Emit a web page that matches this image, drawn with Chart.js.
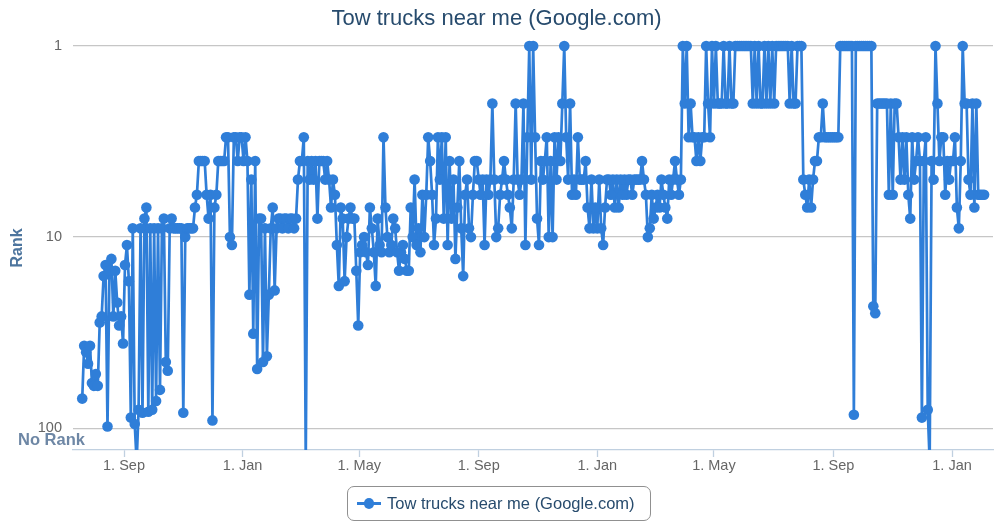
<!DOCTYPE html>
<html>
<head>
<meta charset="utf-8">
<title>Tow trucks near me (Google.com)</title>
<script src="https://cdn.jsdelivr.net/npm/chart.js@4.4.1/dist/chart.umd.min.js"></script>
<style>
  body { margin: 0; background: #fff; }
  #wrap { position: relative; width: 1004px; height: 522px; }
  #legend {
    position: absolute; left: 347px; top: 486px; width: 304px; height: 35px;
    box-sizing: border-box; border: 1px solid #909090; border-radius: 7px;
    display: flex; align-items: center;
    font: 16.5px "Liberation Sans", Arial, sans-serif; color: #274b6d;
  }
  #legend .sym { position: relative; width: 24px; height: 12px; margin-left: 9px; margin-right: 6px; }
  #legend .sym::before { content: ""; position: absolute; left: 0; right: 0; top: 4.7px; height: 2.7px; background: #2f7ed8; }
  #legend .sym::after { content: ""; position: absolute; left: 6.7px; top: 0.7px; width: 10.6px; height: 10.6px; border-radius: 50%; background: #2f7ed8; }
</style>
</head>
<body>
<div id="wrap">
  <canvas id="rank-chart" width="1004" height="522"></canvas>
  <div id="legend"><span class="sym"></span><span>Tow trucks near me (Google.com)</span></div>
</div>
<script>
const NR = 150; // "No Rank" days: below the axis, the line gets clipped at the bottom
const seriesName = "Tow trucks near me (Google.com)";
const firstDate = Date.UTC(2013, 6, 20);
const dayStep = 2; // one reading every 2 days

// rank readings, oldest first
const ranks2013 = [70, 37, 40, 46, 37, 58, 60, 52, 60, 28, 26, 16, 14, 98, 15, 13, 26, 15, 22, 29, 26, 36,
  14, 11, 17, 88, 9, 95, NR, 80, 9, 83, 8, 7, 82, 9, 80, 9, 72, 9, 63, 9, 8, 45, 50, 9, 8, 9, 9,
  9, 9, 9, 83, 10, 9, 9, 9, 9, 7, 6, 4, 4, 4, 4, 6, 8, 6, 91, 7, 6, 4, 4, 4, 4, 3, 3, 10, 11, 3, 3, 4, 3, 3];
const ranks2014 = [4, 3, 4, 20, 5, 32, 4, 49, 8, 8,
  45, 9, 42, 20, 9, 7, 19, 9, 8, 8, 9, 8, 8, 9, 8, 8, 9, 8, 5, 4, 4, 3, NR, 4, 5, 4, 5, 4, 8, 4,
  4, 4, 5, 4, 5, 7, 5, 6, 11, 18, 7, 8, 17, 10, 8, 7, 8,
  8, 15, 29, 12, 11, 10, 12, 14, 7, 9, 12, 18, 8, 11, 12, 3, 7, 10, 12, 11, 8, 9, 12, 15, 12,
  11, 13, 15, 15, 7, 10, 5, 11, 9, 12, 6, 10, 6, 3, 4, 6, 11, 8, 3, 5, 3, 8,
  3, 11, 4, 8, 5, 13, 7, 4, 9, 16, 6, 5, 9, 10, 6, 4, 4, 5, 6, 5, 11, 5, 6, 5, 2, 5, 10, 9, 6, 5,
  4, 5, 6, 7, 9, 5, 2, 5, 6, 5, 2, 11, 3, 1, 5,
  1, 3, 8, 11, 4, 5, 4, 3, 10, 4, 10, 3, 5, 3, 4, 2, 1, 3, 5, 2, 6, 5, 6, 3, 5, 5, 5, 4, 7, 9, 5, 9, 7];
const ranks2015 = [9, 5, 9, 11, 7, 5, 5, 6, 5, 7, 5, 7, 5, 6,
  5, 6, 5, 5, 6, 5, 5, 5, 5, 4, 5, 6, 10, 9, 6, 8, 7, 6, 7, 5, 6, 7, 8, 5, 6, 5, 4, 5, 6, 5,
  1, 2, 1, 3, 2, 3, 3, 4, 3, 4, 3, 3, 1,
  2, 3, 1, 2, 1, 2, 2, 2, 1, 2, 2, 1, 2, 2, 1, 1, 1, 1, 1, 1, 1, 1, 1, 2, 1, 2, 1, 2, 2, 1,
  2, 1, 2, 1, 2, 1, 1, 1, 1, 1, 1, 1, 2, 1, 2, 2, 1, 1, 1,
  5, 6, 7, 5, 7, 5, 4, 4, 3, 3, 2, 3, 3, 3, 3, 3, 3, 3, 3, 1, 1, 1, 1, 1, 1, 1, 85, 1, 1, 1,
  1, 1, 1, 1, 1, 1, 23, 25, 2, 2, 2, 2, 2, 2, 6, 2, 6,
  2, 2, 3, 5, 3, 5, 3, 6, 8, 3, 5, 4, 3, 4, 88, 4, 3, 80, NR, 4, 5, 1, 2, 4, 3, 3, 6, 4, 5, 4];
const ranks2016 = [4, 3, 7, 9, 4, 1, 2, 2, 5, 6, 2, 7, 2, 6, 6, 6, 6];

const tickDates = [Date.UTC(2013, 8, 1), Date.UTC(2014, 0, 1), Date.UTC(2014, 4, 1), Date.UTC(2014, 8, 1),
  Date.UTC(2015, 0, 1), Date.UTC(2015, 4, 1), Date.UTC(2015, 8, 1), Date.UTC(2016, 0, 1)];
const tickLabels = ["1. Sep", "1. Jan", "1. May", "1. Sep", "1. Jan", "1. May", "1. Sep", "1. Jan"];
const rankTicks = [1, 10, 100];

const DAY = 86400000;
const ranks = ranks2013.concat(ranks2014, ranks2015, ranks2016);
const points = ranks.map((r, i) => ({ x: firstDate + i * dayStep * DAY, y: r }));

const fontFamily = '"Liberation Sans", Arial, Helvetica, sans-serif';
Chart.defaults.font.family = fontFamily;

// "No Rank" label sits under the 100 line, partly over the plot
const noRankLabel = {
  id: "noRankLabel",
  afterDraw(chart) {
    const ctx = chart.ctx;
    const y = chart.scales.y.getPixelForValue(115);
    ctx.save();
    ctx.font = "bold 16.5px " + fontFamily;
    ctx.fillStyle = "#6e87a5";
    ctx.textAlign = "left";
    ctx.textBaseline = "middle";
    ctx.fillText("No Rank", 18, y + 1);
    ctx.restore();
  }
};

const ctx = document.getElementById("rank-chart");
const rankChart = new Chart(ctx, {
  type: "line",
  data: {
    datasets: [{
      label: seriesName,
      data: points,
      borderColor: "#2f7ed8",
      backgroundColor: "#2f7ed8",
      borderWidth: 2.7,
      borderJoinStyle: "round",
      borderCapStyle: "round",
      pointRadius: 5.3,
      pointBorderWidth: 0,
      pointBackgroundColor: "#2f7ed8",
      tension: 0,
      clip: { left: 8, top: 8, right: 8, bottom: 0 }
    }]
  },
  options: {
    responsive: false,
    animation: false,
    events: [],
    layout: { padding: { left: 0, right: 11, top: 0, bottom: 42 } },
    plugins: {
      legend: { display: false },
      tooltip: { enabled: false },
      title: {
        display: true,
        text: seriesName,
        color: "#274b6d",
        font: { size: 22, weight: "normal" },
        padding: { top: 6, bottom: 13.6 }
      }
    },
    scales: {
      x: {
        type: "linear",
        min: Date.UTC(2013, 6, 10, 12),
        max: Date.UTC(2016, 1, 12, 4),
        afterBuildTicks: (scale) => { scale.ticks = tickDates.map(v => ({ value: v })); },
        afterFit: (scale) => { scale.height = 30; },
        ticks: {
          autoSkip: false,
          maxRotation: 0,
          padding: 0,
          color: "#666666",
          font: { size: 14.5 },
          callback: (value) => tickLabels[tickDates.indexOf(value)]
        },
        grid: { drawOnChartArea: false, drawTicks: true, tickLength: 7, tickColor: "#C0D0E0", tickWidth: 1.3 },
        border: { display: true, color: "#C0D0E0", width: 1.3 }
      },
      y: {
        type: "logarithmic",
        reverse: true,
        min: 1,
        max: 130,
        afterBuildTicks: (scale) => { scale.ticks = rankTicks.map(v => ({ value: v })); },
        afterFit: (scale) => { scale.width = 73; },
        ticks: {
          padding: 11,
          color: "#666666",
          font: { size: 14.5 },
          callback: (value) => String(value)
        },
        grid: { color: "#c6c6c6", lineWidth: 1.3, drawTicks: false },
        border: { display: false },
        title: {
          display: true,
          text: "Rank",
          color: "#4d759e",
          font: { size: 16, weight: "bold" },
          padding: { top: 8, bottom: 0 }
        }
      }
    }
  },
  plugins: [noRankLabel]
});
</script>
</body>
</html>
